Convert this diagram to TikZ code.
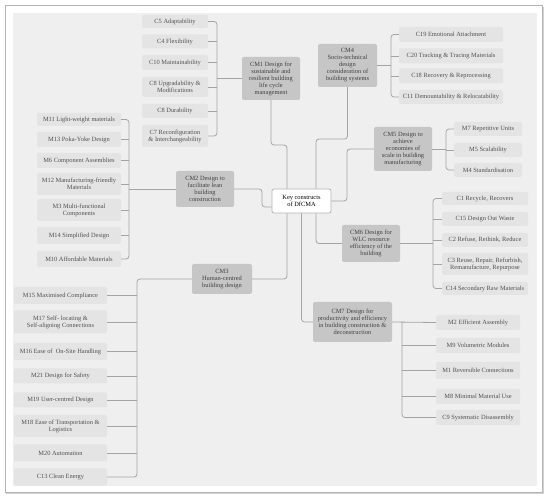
\documentclass[tikz,border=0pt]{standalone}
\usepackage{fontspec}
\setmainfont{Liberation Serif}
\definecolor{bgc}{HTML}{EFEFEF}
\definecolor{leaff}{HTML}{E4E4E4}
\definecolor{cmf}{HTML}{C6C6C6}
\definecolor{linec}{HTML}{A4A4A4}
\definecolor{leaft}{HTML}{505050}
\definecolor{cmt}{HTML}{404040}
\definecolor{framec}{HTML}{B4B4B4}
\tikzset{
  every node/.style={font=\fontsize{6.4}{7}\selectfont, align=center, inner sep=0pt},
  leaf/.style={fill=leaff, text=leaft, rounded corners=1.5pt},
  cmbox/.style={fill=cmf, text=cmt, rounded corners=2pt},
  rootbox/.style={fill=white, draw=framec, line width=0.8pt, text=black, rounded corners=2pt},
  conn/.style={draw=linec, line width=0.8pt, rounded corners=3pt},
  stub/.style={draw=linec, line width=0.8pt},
}
\begin{document}
\begin{tikzpicture}[x=1pt,y=-1pt]
\useasboundingbox (0,0) rectangle (550,500);
% frame
\fill[white] (0,0) rectangle (550,500);
\fill[gray!35] (6,7) rectangle (544,494);
\fill[white, draw=framec, line width=0.8pt] (5,5) rectangle (542,492);
\fill[bgc] (13,13) rectangle (537,486);

% root
\node[rootbox, minimum width=59pt, minimum height=24pt] (root) at (301.5,201) {Key constructs\\of DfCMA};

% CM nodes
\node[cmbox, minimum width=58pt, minimum height=43pt] (cm1) at (271,78.5) {CM1 Design for\\sustainable and\\resilient building\\life cycle\\management};
\node[cmbox, minimum width=59pt, minimum height=43pt] (cm4) at (347.5,65.5) {CM4\\Socio-technical\\design\\consideration of\\building systems};
\node[cmbox, minimum width=58pt, minimum height=36pt] (cm2) at (205,189) {CM2 Design to\\facilitate lean\\building\\construction};
\node[cmbox, minimum width=60pt, minimum height=30pt] (cm3) at (222,279) {CM3\\Human-centred\\building design};
\node[cmbox, minimum width=58pt, minimum height=44pt] (cm5) at (403,149) {CM5 Design to\\achieve\\economies of\\scale in building\\manufacturing};
\node[cmbox, minimum width=58pt, minimum height=37pt] (cm6) at (371,243.5) {CM6 Design for\\WLC resource\\efficiency of the\\building};
\node[cmbox, minimum width=79pt, minimum height=40pt] (cm7) at (352.5,322) {CM7 Design for\\productivity and efficiency\\in building construction \&\\deconstruction};

% CM1 leaves
\begin{scope}[every node/.append style={leaf, minimum width=66pt}]
\node[minimum height=13pt] (c5) at (175,21.5) {C5 Adaptability};
\node[minimum height=14pt] (c4) at (175,41.5) {C4 Flexibility};
\node[minimum height=15pt] (c10) at (175,62.5) {C10 Maintainability};
\node[minimum height=20pt] (c8u) at (175,87) {C8 Upgradability \&\\Modifications};
\node[minimum height=14pt] (c8d) at (175,111) {C8 Durability};
\node[minimum height=22pt] (c7) at (175,136) {C7 Reconfiguration\\\& Interchangeability};
\end{scope}

% CM2 leaves
\begin{scope}[every node/.append style={leaf, minimum width=84pt}]
\node[minimum height=13pt] (m11) at (79,119.5) {M11 Light-weight materials};
\node[minimum height=15pt] (m13) at (79,139.5) {M13 Poka-Yoke Design};
\node[minimum height=15pt] (m6) at (79,160.5) {M6 Component Assemblies};
\node[minimum height=22pt] (m12) at (79,184) {M12 Manufacturing-friendly\\Materials};
\node[minimum height=22pt] (m3) at (79,210) {M3 Multi-functional\\Components};
\node[minimum height=17pt] (m14) at (79,235.5) {M14 Simplified Design};
\node[minimum height=16pt] (m10) at (79,259) {M10 Affordable Materials};
\end{scope}

% CM3 leaves
\begin{scope}[every node/.append style={leaf, minimum width=93pt}]
\node[minimum height=17pt] (m15) at (60.5,295.5) {M15 Maximised Compliance};
\node[minimum height=23pt] (m17) at (60.5,322) {M17 Self- locating \&\\Self-aligning Connections};
\node[minimum height=17pt] (m16) at (60.5,351.5) {M16 Ease of \ On-Site Handling};
\node[minimum height=15pt] (m21) at (60.5,376) {M21 Design for Safety};
\node[minimum height=15pt] (m19) at (60.5,400) {M19 User-centred Design};
\node[minimum height=22pt] (m18) at (60.5,426) {M18 Ease of Transportation \&\\Logistics};
\node[minimum height=17pt] (m20) at (60.5,453) {M20 Automation};
\node[minimum height=17pt] (c13) at (60.5,477) {C13 Clean Energy};
\end{scope}

% CM4 leaves
\begin{scope}[every node/.append style={leaf, minimum width=104pt}]
\node[minimum height=15pt] (c19) at (451,34.5) {C19 Emotional Attachment};
\node[minimum height=15pt] (c20) at (451,56) {C20 Tracking \& Tracing Materials};
\node[minimum height=15pt] (c18) at (451,76) {C18 Recovery \& Reprocessing};
\node[minimum height=14pt] (c11) at (451,97) {C11 Demountability \& Relocatability};
\end{scope}

% CM5 leaves
\begin{scope}[every node/.append style={leaf, minimum width=68pt}]
\node[minimum height=14pt] (m7) at (488,129) {M7 Repetitive Units};
\node[minimum height=14pt] (m5) at (488,150) {M5 Scalability};
\node[minimum height=14pt] (m4) at (488,170) {M4 Standardisation};
\end{scope}

% CM6 leaves
\begin{scope}[every node/.append style={leaf, minimum width=86pt}]
\node[minimum height=13pt] (c1) at (485,198.5) {C1 Recycle, Recovers};
\node[minimum height=14pt] (c15) at (485,219) {C15 Design Out Waste};
\node[minimum height=14pt] (c2) at (485,240) {C2 Refuse, Rethink, Reduce};
\node[minimum height=22pt] (c3) at (485,264) {C3 Reuse, Repair, Refurbish,\\Remanufacture, Repurpose};
\node[minimum height=13pt] (c14) at (485,288.5) {C14 Secondary Raw Materials};
\end{scope}

% CM7 leaves
\begin{scope}[every node/.append style={leaf, minimum width=84pt}]
\node[minimum height=15pt] (m2) at (478,322.5) {M2 Efficient Assembly};
\node[minimum height=15pt] (m9) at (478,345.5) {M9 Volumetric Modules};
\node[minimum height=17pt] (m1) at (478,370.5) {M1 Reversible Connections};
\node[minimum height=15pt] (m8) at (478,396.5) {M8 Minimal Material Use};
\node[minimum height=15pt] (c9) at (478,417.5) {C9 Systematic Disassembly};
\end{scope}

% bracket x-positions and junctions
\coordinate (b1) at (217,0);
\coordinate (b2) at (129,0);
\coordinate (b3) at (137,0);
\coordinate (b4) at (391,0);
\coordinate (b5) at (446,0);
\coordinate (b6) at (433,0);
\coordinate (b7) at (402,0);
\coordinate (j1) at (287,145);
\coordinate (j4) at (316,139);
\coordinate (j2) at (262,207);
\coordinate (j5) at (347,201);

% root connectors
\draw[conn] (cm1.south) |- (j1) -- (j1 |- root.north);
\draw[conn] (cm4.south) |- (j4) -- (j4 |- root.north);
\draw[conn] (cm2.east) -| (j2) -- (j2 -| root.west);
\draw[conn] (root.east) -- (j5) |- (cm5.west);
\draw[conn] (j4 |- root.south) |- (cm6.west);
\draw[conn] (root.south) |- (cm7.west);
\draw[conn] (j1 |- root.south) |- (cm3.east);

% CM1 bracket
\draw[conn] (c5.east) -- (b1 |- c5.east) -- (b1 |- c7.east) -- (c7.east);
\foreach \n in {c4,c10,c8u,c8d} \draw[stub] (\n.east) -- (b1 |- \n.east);
\draw[stub] (cm1.west) -- (b1 |- cm1.west);

% CM2 bracket
\draw[conn] (m11.east) -- (b2 |- m11.east) -- (b2 |- m10.east) -- (m10.east);
\foreach \n in {m13,m6,m12,m3,m14} \draw[stub] (\n.east) -- (b2 |- \n.east);
\draw[stub] (cm2.west) -- (b2 |- cm2.west);

% CM3 bracket
\draw[conn] (cm3.west) -- (b3 |- cm3.west) -- (b3 |- c13.east) -- (c13.east);
\foreach \n in {m15,m17,m16,m21,m19,m18,m20} \draw[stub] (\n.east) -- (b3 |- \n.east);

% CM4 bracket
\draw[conn] (c19.west) -- (b4 |- c19.west) -- (b4 |- c11.west) -- (c11.west);
\foreach \n in {c20,c18} \draw[stub] (\n.west) -- (b4 |- \n.west);
\draw[stub] (cm4.east) -- (b4 |- cm4.east);

% CM5 bracket
\draw[conn] (m7.west) -- (b5 |- m7.west) -- (b5 |- m4.west) -- (m4.west);
\draw[stub] (m5.west) -- (b5 |- m5.west);
\draw[stub] (cm5.east) -- (b5 |- cm5.east);

% CM6 bracket
\draw[conn] (c1.west) -- (b6 |- c1.west) -- (b6 |- c14.west) -- (c14.west);
\foreach \n in {c15,c2,c3} \draw[stub] (\n.west) -- (b6 |- \n.west);
\draw[stub] (cm6.east) -- (b6 |- cm6.east);

% CM7 bracket
\draw[stub] (cm7.east) -- (m2.west);
\draw[conn] (b7 |- cm7.east) -- (b7 |- c9.west) -- (c9.west);
\foreach \n in {m9,m1,m8} \draw[stub] (\n.west) -- (b7 |- \n.west);
\end{tikzpicture}
\end{document}
